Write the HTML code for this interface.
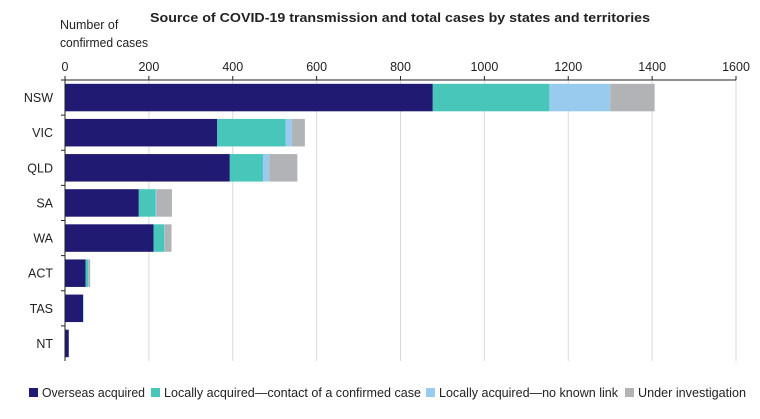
<!DOCTYPE html>
<html><head><meta charset="utf-8"><style>
html,body{margin:0;padding:0;background:#fff;}
svg{display:block;font-family:"Liberation Sans",sans-serif;}
</style></head><body>
<svg id="chart" width="760" height="419" viewBox="0 0 760 419">
<text x="400" y="22" text-anchor="middle" font-size="12.5" font-weight="bold" textLength="500" lengthAdjust="spacingAndGlyphs" fill="#222">Source of COVID-19 transmission and total cases by states and territories</text>
<text x="60" y="29" font-size="12.5" fill="#222">Number of</text>
<text x="60" y="47" font-size="12.5" fill="#222" textLength="88" lengthAdjust="spacingAndGlyphs">confirmed cases</text>
<g id="grid"></g><g id="bars"></g><g id="axes"></g><g id="legend"></g>
</svg>
<script>
const categories=["NSW","VIC","QLD","SA","WA","ACT","TAS","NT"];
const overseas=[877,363,393,176,211,49,43,9];
const localContact=[278,163,79,40,26,6,1,0];
const localUnknown=[145,15,15,2,1,1,0,0];
const underInvestigation=[106,31,67,37,16,4,0,0];
const seriesNames=["Overseas acquired","Locally acquired\u2014contact of a confirmed case","Locally acquired\u2014no known link","Under investigation"];
const ticks=[0,200,400,600,800,1000,1200,1400,1600];

const NS="http://www.w3.org/2000/svg";
const x0=65,x1=736,yTop=80,yBot=361;
const xMax=1600;
const colors=["#201a72","#47c6b9","#98cbee","#b1b3b6"];
const series=[overseas,localContact,localUnknown,underInvestigation];
const band=(yBot-yTop)/categories.length, barH=27.5;
function xs(v){return x0+v/xMax*(x1-x0);}
function ys(i){return yTop+i*band+(band-barH)/2;}
function mk(tag,attrs,parent){const e=document.createElementNS(NS,tag);for(const k in attrs)e.setAttribute(k,attrs[k]);parent.appendChild(e);return e;}
const grid=document.getElementById('grid'),bars=document.getElementById('bars'),axes=document.getElementById('axes'),legend=document.getElementById('legend');
ticks.forEach(t=>{
  const x=xs(t);
  if(t>0){const g=mk('line',{x1:x,x2:x,y1:yTop,y2:yBot,stroke:'#d9d9d9','stroke-width':1},grid);
  
  }
  const tk=mk('line',{x1:x,x2:x,y1:yTop-4,y2:yTop,stroke:'#222','stroke-width':1},axes);
  
  
  const lb=mk('text',{x:x,y:71,'text-anchor':'middle','font-size':12.5,fill:'#222'},axes);
  lb.textContent=t;
  
  
});
const xa=mk('line',{x1:x0,x2:x1,y1:yTop,y2:yTop,stroke:'#222','stroke-width':1},axes);


const ya=mk('line',{x1:x0,x2:x0,y1:yTop,y2:yBot,stroke:'#222','stroke-width':1},axes);


categories.forEach((c,i)=>{
  let acc=0;
  series.forEach((s,si)=>{
    const v=s[i];
    if(v>0){const r=mk('rect',{x:xs(acc),y:ys(i),width:xs(acc+v)-xs(acc),height:barH,fill:colors[si]},bars);
    
    }
    acc+=v;
  });
  const tk=mk('line',{x1:x0-4,x2:x0,y1:yTop+i*band,y2:yTop+i*band,stroke:'#222'},axes);
  
  
  const lb=mk('text',{x:53,y:ys(i)+barH/2+4.5,'text-anchor':'end','font-size':12.5,fill:'#222'},axes);
  lb.textContent=c;
  
  
});
const lx=[29,151,426,625],lw=[103,257,179,108];
seriesNames.forEach((n,i)=>{
  const g=mk('g',{},legend);
  
  
  const sq=mk('rect',{x:lx[i],y:388,width:9,height:9,fill:colors[i]},g);
  
  
  const t=mk('text',{x:lx[i]+13,y:397,'font-size':12.5,fill:'#222',textLength:lw[i],lengthAdjust:'spacingAndGlyphs'},g);
  t.textContent=n;
  
  
});
</script>
</body></html>
